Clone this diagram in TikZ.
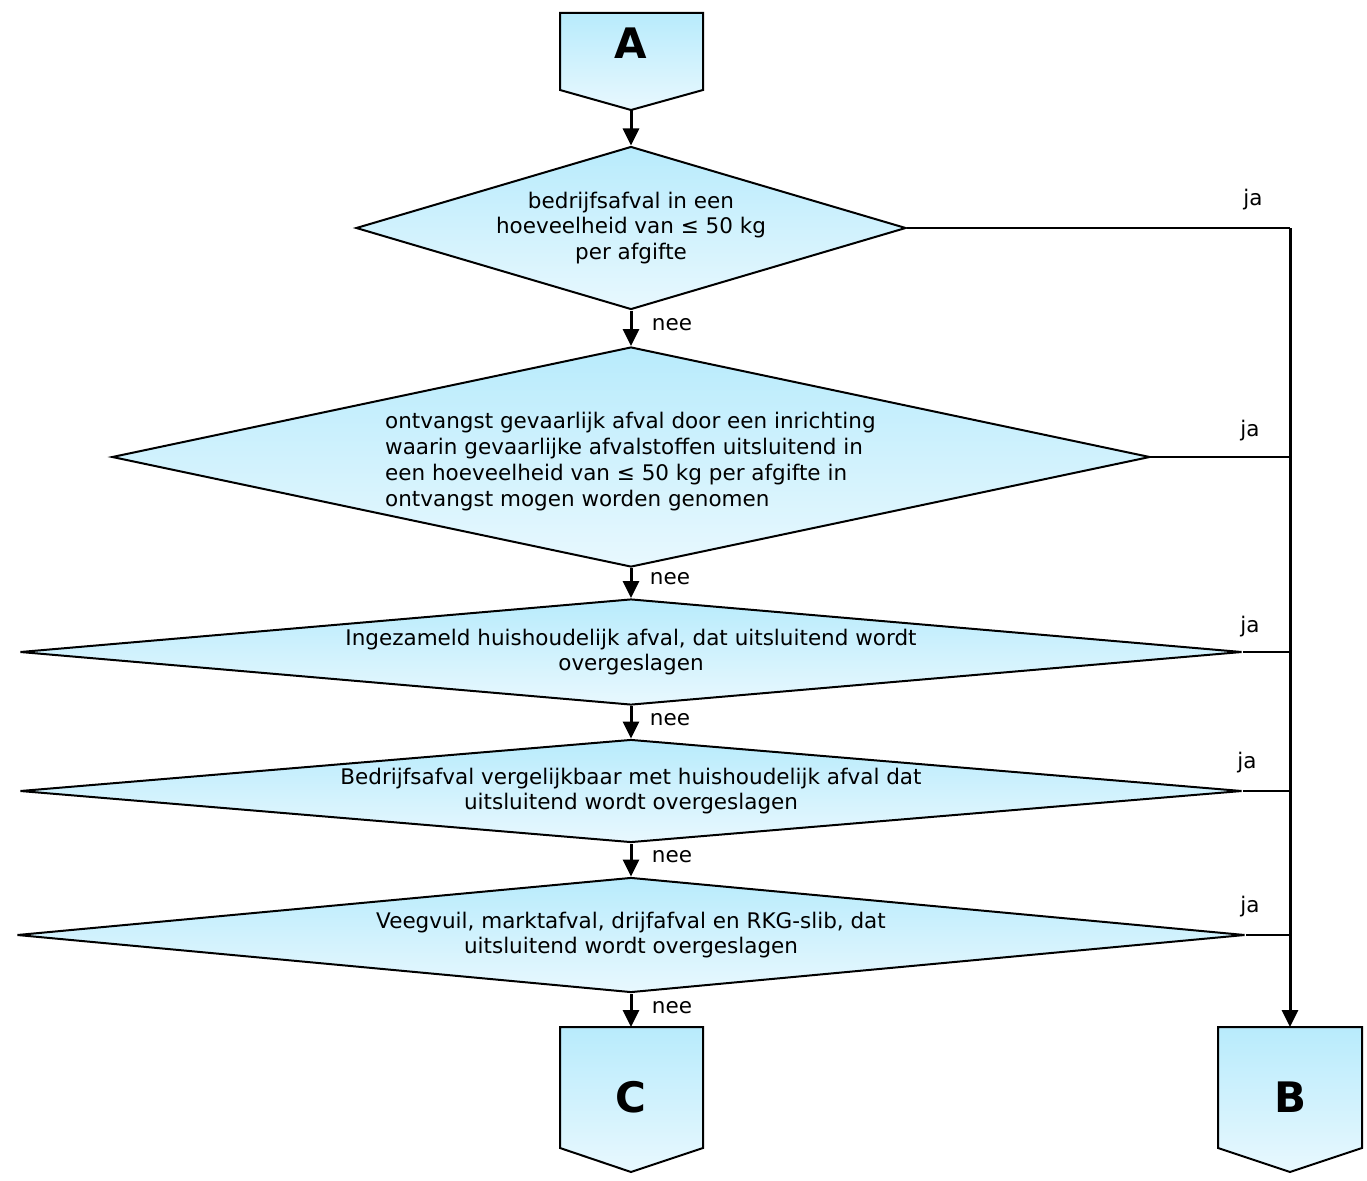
\documentclass[tikz,border=0pt]{standalone}
\usepackage{fontspec}
\setmainfont{DejaVu Sans}
\usetikzlibrary{shapes.geometric, arrows.meta, positioning}
\definecolor{skytop}{RGB}{184,235,252}
\definecolor{skybot}{RGB}{232,248,254}
\tikzset{
>={Triangle[length=17pt,width=16pt]}, % filled arrow heads
x=1pt, y=-1pt, % one unit is one pixel of the original, y runs down
skyfill/.style={top color=skytop, bottom color=skybot}, % shading of every shape
decision/.style n args={3}{diamond, draw, line width=2pt, skyfill, inner sep=0pt,
  minimum width=#1pt, minimum height=#2pt, aspect=#3, % width, height, width/height
  align=center, font=\fontsize{21.5}{25.5}\selectfont},
offpage/.style={draw, line width=2pt, skyfill}, % the A, B and C arrows
letter/.style={font=\fontsize{42}{42}\bfseries\selectfont},
answer/.style={font=\fontsize{21.5}{25}\selectfont, inner sep=0pt},
flow/.style={->, line width=3pt},
side/.style={line width=2pt},
}
\begin{document}
\begin{tikzpicture}
  \useasboundingbox[fill=white] (0,0) rectangle (1367,1180);

  % off-page connectors
  \path[offpage] (560,13) -- (703,13) -- (703,90) -- (631,110) -- (560,90) -- cycle;
  \node[letter] (A) at (631,43) {A};
  \coordinate (Aout) at (631,110);
  \path[offpage] (560,1027) -- (703,1027) -- (703,1148) -- (631,1172) -- (560,1148) -- cycle;
  \node[letter] (C) at (631,1097) {C};
  \coordinate (Cin) at (631,1027);
  \path[offpage] (1218,1027) -- (1362,1027) -- (1362,1148) -- (1290,1172) -- (1218,1148) -- cycle;
  \node[letter] (B) at (1290,1097) {B};
  \coordinate (Bin) at (1290,1027);

  % decisions
  \node[decision={550}{163}{3.374}] (d1) at (631,228)
    {bedrijfsafval in een\\hoeveelheid van ≤ 50 kg\\per afgifte};
  \node[decision={1038}{220}{4.718}] (d2) at (631,457) {};
  \node[align=left, font=\fontsize{21.5}{26}\selectfont, anchor=north west, inner sep=0pt] (d2text) at (385,412)
    {ontvangst gevaarlijk afval door een inrichting\\
     waarin gevaarlijke afvalstoffen uitsluitend in\\
     een hoeveelheid van ≤ 50 kg per afgifte in\\
     ontvangst mogen worden genomen};
  \node[decision={1222}{106}{11.528}] (d3) at (631,652)
    {Ingezameld huishoudelijk afval, dat uitsluitend wordt\\overgeslagen};
  \node[decision={1222}{103}{11.864}] (d4) at (631,791)
    {Bedrijfsafval vergelijkbaar met huishoudelijk afval dat\\uitsluitend wordt overgeslagen};
  \node[decision={1228}{115}{10.678}] (d5) at (631,935)
    {Veegvuil, marktafval, drijfafval en RKG-slib, dat\\uitsluitend wordt overgeslagen};

  % nee branch
  \draw[flow] (Aout) -- (d1.north);
  \draw[flow] (d1.south) -- (d2.north);
  \draw[flow] (d2.south) -- (d3.north);
  \draw[flow] (d3.south) -- (d4.north);
  \draw[flow] (d4.south) -- (d5.north);
  \draw[flow] (d5.south) -- (Cin);

  \node[answer] (n1) at (672,325) {nee};
  \node[answer] (n2) at (670,579) {nee};
  \node[answer] (n3) at (670,720) {nee};
  \node[answer] (n4) at (672,857) {nee};
  \node[answer] (n5) at (672,1008) {nee};

  % ja branch
  \coordinate (j1) at (1290,228);
  \draw[side] (d1.east) -- (j1);
  \draw[flow] (j1) -- (Bin);
  \draw[side] (d2.east) -- (1290,457);
  \draw[side] (d3.east) -- (1290,652);
  \draw[side] (d4.east) -- (1290,791);
  \draw[side] (d5.east) -- (1290,935);

  \node[answer] (y1) at (1253,200) {ja};
  \node[answer] (y2) at (1250,431) {ja};
  \node[answer] (y3) at (1250,627) {ja};
  \node[answer] (y4) at (1247,763) {ja};
  \node[answer] (y5) at (1250,907) {ja};
\end{tikzpicture}
\end{document}
